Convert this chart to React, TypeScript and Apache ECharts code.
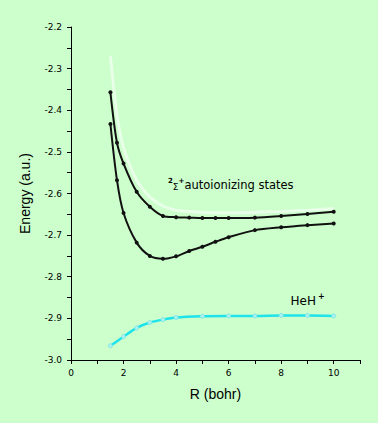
import React, { useEffect, useRef } from "react";
import * as echarts from "echarts";

const upperState: [number, number][] = [
  [1.5, -2.357], [1.75, -2.478], [2.0, -2.528], [2.5, -2.596], [3.0, -2.632],
  [3.5, -2.654], [4.0, -2.657], [4.5, -2.658], [5.0, -2.659], [5.5, -2.659],
  [6.0, -2.659], [7.0, -2.658], [8.0, -2.654], [9.0, -2.649], [10.0, -2.644],
];
const lowerState: [number, number][] = [
  [1.5, -2.433], [1.75, -2.568], [2.0, -2.647], [2.5, -2.718], [3.0, -2.75],
  [3.5, -2.757], [4.0, -2.751], [4.5, -2.738], [5.0, -2.728], [5.5, -2.716],
  [6.0, -2.705], [7.0, -2.688], [8.0, -2.681], [9.0, -2.676], [10.0, -2.672],
];
const whiteState: [number, number][] = [
  [1.5, -2.27], [1.75, -2.41], [2.0, -2.49], [2.5, -2.568], [3.0, -2.608],
  [3.5, -2.63], [4.0, -2.64], [5.0, -2.645], [6.0, -2.646], [7.0, -2.645],
  [8.0, -2.643], [9.0, -2.64], [10.0, -2.636],
];
const hehIon: [number, number][] = [
  [1.5, -2.966], [2.0, -2.944], [2.5, -2.923], [3.0, -2.91], [3.5, -2.903],
  [4.0, -2.898], [5.0, -2.895], [6.0, -2.894], [7.0, -2.894], [8.0, -2.893],
  [9.0, -2.893], [10.0, -2.894],
];

const FONT = "'DejaVu Sans', Arial, sans-serif";

export default function App() {
  const ref = useRef<HTMLDivElement>(null);
  useEffect(() => {
    if (!ref.current) return;
    const chart = echarts.init(ref.current, null, { renderer: "svg" });
    chart.setOption({
      animation: false,
      backgroundColor: "#ccffcc",
      grid: { left: 71, top: 27, right: 18, bottom: 63 },
      xAxis: {
        type: "value",
        min: 0,
        max: 11,
        interval: 1,
        name: "R (bohr)",
        nameLocation: "middle",
        nameGap: 27,
        nameTextStyle: { fontSize: 14, color: "#000", fontFamily: "Arial, 'Liberation Sans', sans-serif" },
        axisLine: { lineStyle: { color: "#000", width: 1 } },
        axisTick: { length: 4, inside: false, lineStyle: { color: "#000" } },
        axisLabel: {
          margin: 8,
          fontSize: 9,
          color: "#000",
          fontFamily: FONT,
          formatter: (v: number) => (v % 2 === 0 && v <= 10 ? String(v) : ""),
        },
        splitLine: { show: false },
      },
      yAxis: {
        type: "value",
        min: -3.0,
        max: -2.2,
        interval: 0.05,
        name: "Energy (a.u.)",
        nameLocation: "middle",
        nameRotate: 90,
        nameGap: 39,
        nameTextStyle: { fontSize: 14, color: "#000", fontFamily: "Arial, 'Liberation Sans', sans-serif" },
        axisLine: { show: true, lineStyle: { color: "#000", width: 1 } },
        axisTick: { show: true, length: 4, lineStyle: { color: "#000" } },
        axisLabel: {
          margin: 9,
          fontSize: 9,
          color: "#000",
          fontFamily: FONT,
          formatter: (v: number) => (Math.round(v * 100) % 10 === 0 ? v.toFixed(1) : ""),
        },
        splitLine: { show: false },
      },
      series: [
        {
          type: "line",
          data: whiteState,
          smooth: 0.3,
          showSymbol: false,
          symbol: "none",
          lineStyle: { color: "rgba(255,255,255,0.55)", width: 3 },
          z: 1,
        },
        {
          type: "line",
          data: upperState,
          smooth: 0.3,
          symbol: "circle",
          symbolSize: 4,
          itemStyle: { color: "#111" },
          lineStyle: { color: "#111", width: 2 },
          z: 3,
        },
        {
          type: "line",
          data: lowerState,
          smooth: 0.3,
          symbol: "circle",
          symbolSize: 4,
          itemStyle: { color: "#111" },
          lineStyle: { color: "#111", width: 2 },
          z: 3,
        },
        {
          type: "line",
          data: hehIon,
          smooth: 0.3,
          symbol: "circle",
          symbolSize: 4,
          itemStyle: { color: "#aef2ee", borderColor: "#7fe8e8", borderWidth: 1 },
          lineStyle: { color: "#1ee3ea", width: 2.5 },
          z: 2,
        },
      ],
      graphic: [
        {
          type: "text",
          x: 168,
          y: 177,
          style: {
            text: "{sup|2}{sig|Σ}{sup|+}{main|autoionizing states}",
            fill: "#000",
            align: "left",
            verticalAlign: "top",
            fontFamily: FONT,
            rich: {
              sup: { fontSize: 7, fontWeight: "bold", fontFamily: FONT, verticalAlign: "top", lineHeight: 8, fill: "#000" },
              sig: { fontSize: 9, fontFamily: FONT, verticalAlign: "bottom", lineHeight: 11, fill: "#000" },
              main: { fontSize: 11.5, fontFamily: FONT, verticalAlign: "bottom", lineHeight: 14, fill: "#000" },
            },
          },
        },
        {
          type: "text",
          x: 290.5,
          y: 292,
          style: {
            text: "{main|HeH}{sup|+}",
            fill: "#000",
            align: "left",
            verticalAlign: "top",
            fontFamily: FONT,
            rich: {
              main: { fontSize: 12, fontFamily: FONT, verticalAlign: "bottom", lineHeight: 15, fill: "#000", padding: [0, 2, 0, 0] },
              sup: { fontSize: 8, fontWeight: "bold", fontFamily: FONT, verticalAlign: "top", lineHeight: 8, fill: "#000" },
            },
          },
        },
      ],
    });
    return () => chart.dispose();
  }, []);
  return (
    <div
      ref={ref}
      style={{ position: "fixed", left: 0, top: 0, width: 378, height: 423 }}
    />
  );
}
